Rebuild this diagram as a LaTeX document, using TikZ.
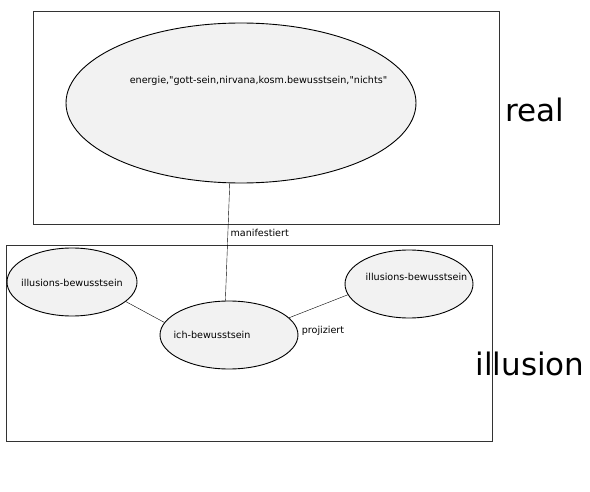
\documentclass[tikz,border=0pt]{standalone}
\usepackage{fontspec}
\setmainfont{DejaVu Sans}[Ligatures=TeXOff]
\usetikzlibrary{shapes.geometric}

\tikzset{
  bubble/.style={draw, ellipse, fill=gray!10, line width=0.9pt, inner sep=0pt},
  frame/.style={draw=black!80, line width=0.8pt}
}

\begin{document}
\begin{tikzpicture}[x=1pt,y=-1pt,font=\fontsize{9.6}{11}\selectfont]

\useasboundingbox (0,0) rectangle (590,492);

%%%%%%%%%%%%%%%%%%%%%%%%%%%%%%%%%%%%%%%%%%%%%%%%%%%%%%%%%%
% FRAMES
%%%%%%%%%%%%%%%%%%%%%%%%%%%%%%%%%%%%%%%%%%%%%%%%%%%%%%%%%%

\node[
frame,
minimum width=466pt,
minimum height=213pt,
inner sep=0pt
](realframe)
at (266,117.5){};

\node[
frame,
minimum width=486pt,
minimum height=196pt,
inner sep=0pt
](illframe)
at (249,343){};

\node[font=\fontsize{31}{34}\selectfont](real) at (535,110){real};
\node[font=\fontsize{31}{34}\selectfont](illusion) at (530,364){illusion};

%%%%%%%%%%%%%%%%%%%%%%%%%%%%%%%%%%%%%%%%%%%%%%%%%%%%%%%%%%
% BUBBLES
%%%%%%%%%%%%%%%%%%%%%%%%%%%%%%%%%%%%%%%%%%%%%%%%%%%%%%%%%%

\node[
bubble,
minimum width=350pt,
minimum height=160pt,
label={[xshift=17.5pt,yshift=22pt]center:energie,"gott-sein,nirvana,kosm.bewusstsein,"nichts"}
](energie)
at (241,103){};

\node[
bubble,
minimum width=130pt,
minimum height=68pt,
label={[yshift=-1pt]center:illusions-bewusstsein}
](illleft)
at (72,282){};

\node[
bubble,
minimum width=138pt,
minimum height=68pt,
label={[xshift=-17pt]center:ich-bewusstsein}
](ich)
at (229,335){};

\node[
bubble,
minimum width=128pt,
minimum height=68pt,
label={[xshift=7.5pt,yshift=7pt]center:illusions-bewusstsein}
](illright)
at (409,284){};

%%%%%%%%%%%%%%%%%%%%%%%%%%%%%%%%%%%%%%%%%%%%%%%%%%%%%%%%%%
% CONNECTIONS
%%%%%%%%%%%%%%%%%%%%%%%%%%%%%%%%%%%%%%%%%%%%%%%%%%%%%%%%%%

\draw (energie.-98.5)--(ich.96.7);
\draw (illleft.-20)--(ich.169.4);
\draw (illright.190.2)--(ich.16);

\node[anchor=west](manifest) at (227,233){manifestiert};
\node(projiziert) at (323,331){projiziert};

\end{tikzpicture}
\end{document}
